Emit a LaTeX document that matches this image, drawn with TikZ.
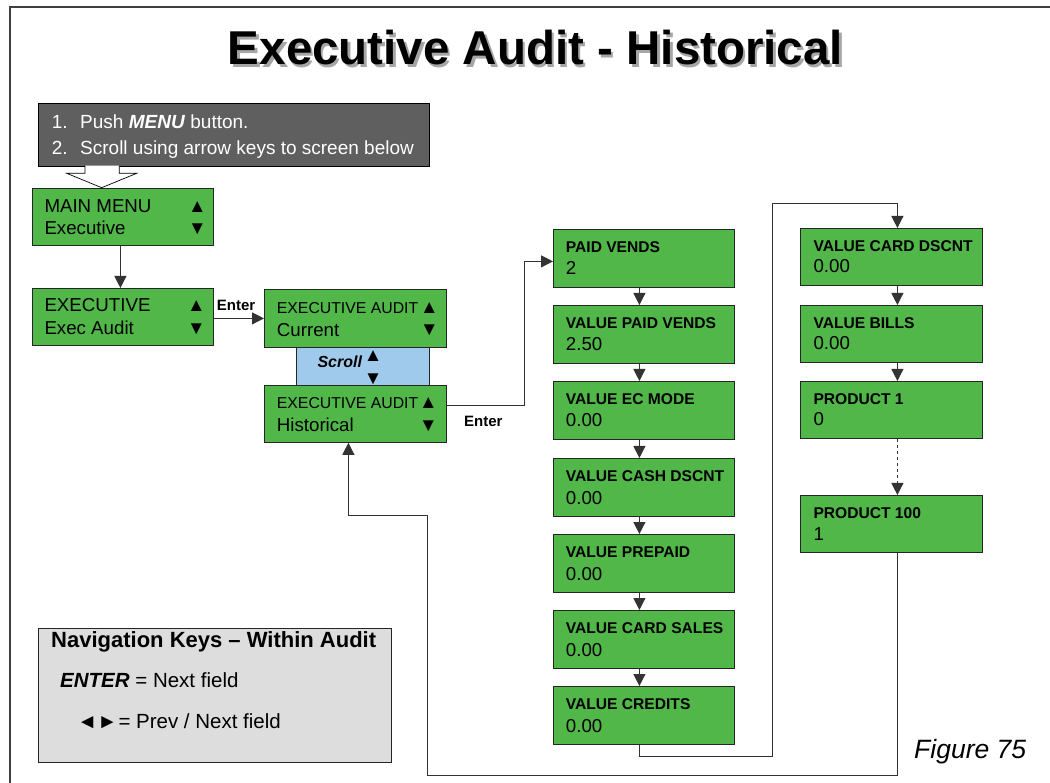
\documentclass[tikz,border=0pt]{standalone}
\usepackage{fontspec}
\setmainfont{Liberation Sans}
\usetikzlibrary{calc,arrows.meta}
\definecolor{boxgreen}{RGB}{81,183,73}
\definecolor{scrollblue}{RGB}{160,202,235}
\definecolor{instgray}{RGB}{95,95,95}
\definecolor{navgray}{RGB}{221,221,221}
\tikzset{
  gbox/.style={draw=black!85, fill=boxgreen, line width=0.8pt, minimum width=181pt, minimum height=57pt, anchor=north west, inner sep=0pt},
  conn/.style={draw=black!80, line width=1pt},
  arr/.style={conn, -{Triangle[length=12pt,width=12pt]}},
  txt/.style={anchor=base west, inner sep=0pt, font=\fontsize{18.7}{22}\selectfont},
  stxt/.style={anchor=base west, inner sep=0pt, font=\fontsize{15.8}{19}\selectfont},
  btxt/.style={anchor=base west, inner sep=0pt, font=\bfseries\fontsize{15.6}{18}\selectfont},
  lbl/.style={anchor=base west, inner sep=0pt, font=\bfseries\fontsize{15}{18}\selectfont},
  wtxt/.style={anchor=base west, inner sep=0pt, text=white, font=\fontsize{19}{22}\selectfont},
  ntxt/.style={anchor=base west, inner sep=0pt, font=\fontsize{20.5}{24}\selectfont},
}
\newcommand{\shadowtext}[1]{\makebox[0pt][l]{\raisebox{-2.5pt}{\hspace{2.5pt}\textcolor{black!35}{#1}}}#1}
\begin{document}
\begin{tikzpicture}[x=1pt,y=-1pt]
\useasboundingbox (0,0) rectangle (1050,783);
% frame
\draw[line width=1.6pt, black!75] (10,800) -- (10,7) -- (1060,7);
% title
\node[anchor=base, inner sep=0pt, font=\bfseries\fontsize{47.5}{52}\selectfont] (title) at (535.5,65) {\shadowtext{Executive Audit - Historical}};

% instruction box
\node[draw=black, fill=instgray, line width=0.8pt, anchor=north west, minimum width=391pt, minimum height=63pt, inner sep=0pt] (inst) at (38.3,102.7) {};
\node[wtxt] (i1n) at (51.7,128.3) {1.};
\node[wtxt] (i1t) at (80,128.3) {Push \textbf{\textit{MENU}} button.};
\node[wtxt] (i2n) at (51.7,155) {2.};
\node[wtxt] (i2t) at (80,155) {Scroll using arrow keys to screen below};
% block arrow
\draw[fill=white, draw=black, line width=0.7pt] (85,165.7) -- (85,173.3) -- (66.7,173.3) -- (101.7,187.7) -- (136.7,173.3) -- (119.3,173.3) -- (119.3,165.7);

% left column
\node[gbox] (mm) at (32,188) {};
\node[txt] at ($(mm.north west)+(12.3,25)$) {MAIN MENU};
\node[txt] at ($(mm.north west)+(12.3,47)$) {Executive};
\node[txt] at ($(mm.north east)+(-26,25)$) {▲};
\node[txt] at ($(mm.north east)+(-26,47)$) {▼};

\node[gbox] (ex) at (32,288) {};
\node[txt] at ($(ex.north west)+(12.3,24)$) {EXECUTIVE};
\node[txt] at ($(ex.north west)+(12.3,47)$) {Exec Audit};
\node[txt] at ($(ex.north east)+(-27,24)$) {▲};
\node[txt] at ($(ex.north east)+(-27,47)$) {▼};

% executive audit boxes
\node[gbox, minimum width=182pt, minimum height=58pt] (cur) at (264,289) {};
\node[stxt] at ($(cur.north west)+(12.7,25)$) {EXECUTIVE AUDIT};
\node[txt] at ($(cur.north west)+(12.7,47.5)$) {Current};
\node[txt] at ($(cur.north east)+(-27,25)$) {▲};
\node[txt] at ($(cur.north east)+(-27,47)$) {▼};

\node[draw=black!85, fill=scrollblue, line width=0.8pt, anchor=north west, minimum width=133pt, minimum height=38pt, inner sep=0pt] (scroll) at (296,347) {};
\node[anchor=base west, inner sep=0pt, font=\bfseries\itshape\fontsize{16}{19}\selectfont] at (317.3,367.3) {Scroll};
\node[txt] at (363.7,361.7) {▲};
\node[txt] at (363.7,384.3) {▼};

\node[gbox, minimum width=182pt] (hist) at (264,385) {};
\node[stxt] at ($(hist.north west)+(12.7,24)$) {EXECUTIVE AUDIT};
\node[txt] at ($(hist.north west)+(12.7,46.7)$) {Historical};
\node[txt] at ($(hist.north east)+(-28,24)$) {▲};
\node[txt] at ($(hist.north east)+(-28,46.7)$) {▼};

% middle column
\node[gbox, minimum height=58pt] (pv) at (553,229) {};
\node[btxt] at ($(pv.north west)+(12.7,23.7)$) {PAID VENDS};
\node[txt] at ($(pv.north west)+(12.7,46)$) {2};
\node[gbox, minimum height=58pt] (vpv) at (553,305) {};
\node[btxt] at ($(vpv.north west)+(12.7,23.7)$) {VALUE PAID VENDS};
\node[txt] at ($(vpv.north west)+(12.7,46)$) {2.50};
\node[gbox, minimum height=58pt] (vec) at (553,381) {};
\node[btxt] at ($(vec.north west)+(12.7,23.7)$) {VALUE EC MODE};
\node[txt] at ($(vec.north west)+(12.7,46)$) {0.00};
\node[gbox, minimum height=58pt] (vcd) at (553,458) {};
\node[btxt] at ($(vcd.north west)+(12.7,23.7)$) {VALUE CASH DSCNT};
\node[txt] at ($(vcd.north west)+(12.7,46)$) {0.00};
\node[gbox, minimum height=58pt] (vpp) at (553,534) {};
\node[btxt] at ($(vpp.north west)+(12.7,23.7)$) {VALUE PREPAID};
\node[txt] at ($(vpp.north west)+(12.7,46)$) {0.00};
\node[gbox, minimum height=58pt] (vcs) at (553,610) {};
\node[btxt] at ($(vcs.north west)+(12.7,23.7)$) {VALUE CARD SALES};
\node[txt] at ($(vcs.north west)+(12.7,46)$) {0.00};
\node[gbox, minimum height=58pt] (vc) at (553,686) {};
\node[btxt] at ($(vc.north west)+(12.7,23.7)$) {VALUE CREDITS};
\node[txt] at ($(vc.north west)+(12.7,46)$) {0.00};

% right column
\node[gbox, minimum width=182pt] (cd) at (800,228) {};
\node[btxt] at ($(cd.north west)+(13.3,23.7)$) {VALUE CARD DSCNT};
\node[txt] at ($(cd.north west)+(13.3,45)$) {0.00};
\node[gbox, minimum width=182pt] (vb) at (800,305) {};
\node[btxt] at ($(vb.north west)+(13.3,23.7)$) {VALUE BILLS};
\node[txt] at ($(vb.north west)+(13.3,45)$) {0.00};
\node[gbox, minimum width=182pt] (p1) at (800,381) {};
\node[btxt] at ($(p1.north west)+(13.3,23.7)$) {PRODUCT 1};
\node[txt] at ($(p1.north west)+(13.3,45)$) {0};
\node[gbox, minimum width=182pt] (p100) at (800,495) {};
\node[btxt] at ($(p100.north west)+(13.3,23.7)$) {PRODUCT 100};
\node[txt] at ($(p100.north west)+(13.3,45)$) {1};

% labels
\node[lbl] (enter1) at (216.7,310.7) {Enter};
\node[lbl] (enter2) at (464,426.7) {Enter};

% connectors
\draw[arr] ($(mm.south)+(-2.5,0)$) -- ($(ex.north)+(-2.5,0)$);
\draw[arr] (ex.east |- cur.west) -- (cur.west);
\draw[arr] ($(hist.east)+(0,-8)$) -| ($(pv.west)+(-29,3)$) -- ($(pv.west)+(0,3)$);
\draw[arr] ($(pv.south)+(-4.5,0)$) -- ($(vpv.north)+(-4.5,0)$);
\draw[arr] ($(vpv.south)+(-4.5,0)$) -- ($(vec.north)+(-4.5,0)$);
\draw[arr] ($(vec.south)+(-4.5,0)$) -- ($(vcd.north)+(-4.5,0)$);
\draw[arr] ($(vcd.south)+(-4.5,0)$) -- ($(vpp.north)+(-4.5,0)$);
\draw[arr] ($(vpp.south)+(-4.5,0)$) -- ($(vcs.north)+(-4.5,0)$);
\draw[arr] ($(vcs.south)+(-4.5,0)$) -- ($(vc.north)+(-4.5,0)$);
\coordinate (loopR) at (772.3,204);
\draw[arr] ($(vc.south)+(-4.5,0)$) -- ++(0,12) -| (loopR) -| ($(cd.north)+(6,0)$);
\draw[arr] ($(cd.south)+(6,0)$) -- ($(vb.north)+(6,0)$);
\draw[arr] ($(vb.south)+(6,0)$) -- ($(p1.north)+(6,0)$);
\draw[arr, dashed] ($(p1.south)+(6,0)$) -- ($(p100.north)+(6,0)$);
\coordinate (loopB) at (427.7,515);
\draw[arr] ($(p100.south)+(6,0)$) -- ++(0,223) -| (loopB) -| ($(hist.south)+(-7,0)$);

% navigation box
\node[draw=black!85, fill=navgray, line width=0.8pt, anchor=north west, minimum width=352.7pt, minimum height=133.4pt, inner sep=0pt] (nav) at (38.3,628.3) {};
\node[anchor=base west, inner sep=0pt, font=\bfseries\fontsize{22}{25}\selectfont] (navt) at (51,647) {Navigation Keys – Within Audit};
\node[ntxt] (nav1) at (60,687.3) {\textbf{\textit{ENTER}} = Next field};
\node[ntxt] (nav2s) at (77,728.3) {◄►};
\node[ntxt] (nav2) at (118.3,728.3) {= Prev / Next field};

% figure label
\node[anchor=base west, inner sep=0pt, font=\itshape\fontsize{26.5}{30}\selectfont] (fig) at (914,758.3) {Figure 75};
\end{tikzpicture}
\end{document}
